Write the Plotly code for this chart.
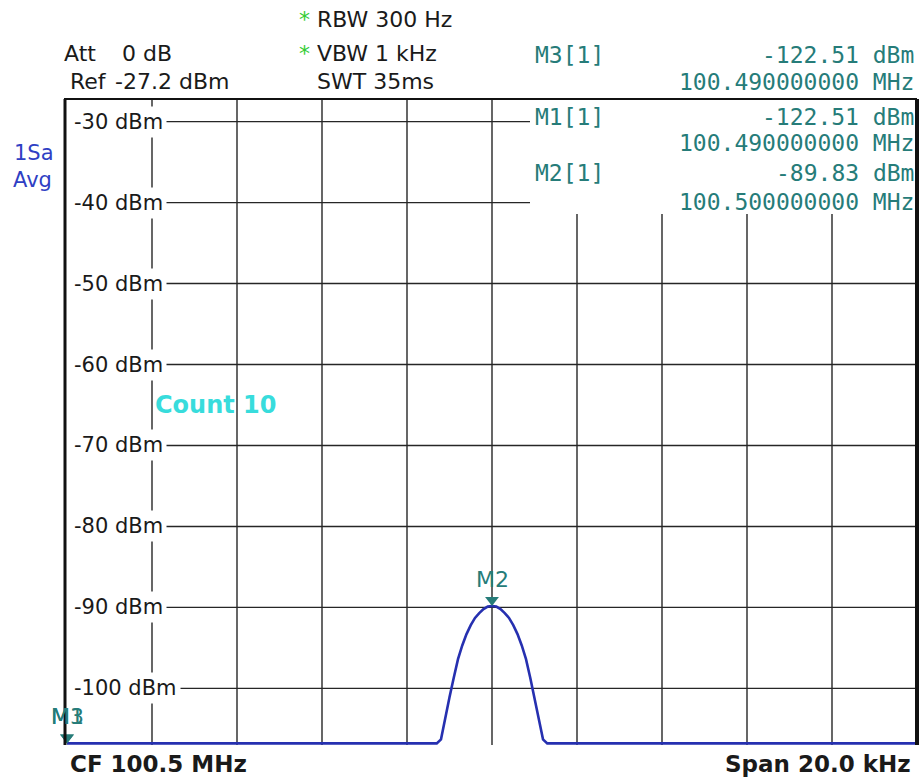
import numpy as np
import plotly.graph_objects as go

CENTER_MHZ = 100.5
SPAN_KHZ = 20.0
REF_LEVEL_DBM = -27.2
ATT_DB = 0
RBW_TEXT = "RBW 300 Hz"
VBW_TEXT = "VBW 1 kHz"
SWT_TEXT = "SWT 35ms"
GRID_LEVELS_DBM = [-30, -40, -50, -60, -70, -80, -90, -100]
GRID_LABELS = ["-30 dBm", "-40 dBm", "-50 dBm", "-60 dBm",
               "-70 dBm", "-80 dBm", "-90 dBm", "-100 dBm"]

# trace (offset from centre in kHz, level in dBm)
TRACE_OFFSET_KHZ = [-10.0, -1.8, -1.6, -1.4, -1.3, -1.2, -1.1, -1.0, -0.9, -0.8,
                    -0.7, -0.6, -0.5, -0.4, -0.3, -0.2, -0.1, 0.0,
                    0.1, 0.2, 0.3, 0.4, 0.5, 0.6, 0.7, 0.8, 0.9, 1.0,
                    1.1, 1.2, 1.3, 1.4, 1.6, 1.8, 10.0]
TRACE_LEVEL_DBM = [-122.51, -122.51, -118.8, -112.1, -109.1, -106.3, -103.6, -101.1, -98.7, -96.4,
                   -94.7, -93.3, -92.2, -91.3, -90.7, -90.2, -89.9, -89.83,
                   -89.9, -90.2, -90.7, -91.3, -92.2, -93.3, -94.7, -96.4, -98.7, -101.1,
                   -103.6, -106.3, -109.1, -112.1, -118.8, -122.51, -122.51]

MARKER_NAMES = ["M3", "M1", "M2"]
MARKER_FREQ_MHZ = [100.49, 100.49, 100.50]
MARKER_LEVEL_DBM = [-122.51, -122.51, -89.83]

# ---------------- layout geometry (pixels) ----------------
W, H = 919, 780
L, R, T, B = 67, 917, 99, 745
Y_BOTTOM = -107.0          # lowest level visible on this (cropped) screen
PX_PER_DB = (B - T) / (REF_LEVEL_DBM - Y_BOTTOM)
TABLE_LEFT_PX = 530
TABLE_BOTTOM_PX = 214
LABEL_LEFT_PX = 70

def px_x(px):
    return (px - L) / (R - L)

def px_y(py):
    return (B - py) / (B - T)

GRID_COLOR = "#262626"
TEAL = "#267c79"
BLUE_TXT = "#2f3fc4"
TRACE_COLOR = "#2630b0"
SANS = "DejaVu Sans"
MONO = "DejaVu Sans Mono"

f0 = CENTER_MHZ - SPAN_KHZ / 2000.0
f1 = CENTER_MHZ + SPAN_KHZ / 2000.0
freq = CENTER_MHZ + np.array(TRACE_OFFSET_KHZ) / 1000.0
floor_draw = Y_BOTTOM + 0.2
level_disp = np.maximum(np.array(TRACE_LEVEL_DBM), floor_draw)

fig = go.Figure()
fig.add_trace(go.Scatter(x=freq, y=level_disp, mode="lines",
                         line=dict(color=TRACE_COLOR, width=2.6),
                         hoverinfo="skip", showlegend=False))

# marker triangles (tip at the marker level)
tri_size = 12
tri_off_db = (tri_size / 2) / PX_PER_DB
mk_y = [max(v, floor_draw) + tri_off_db for v in MARKER_LEVEL_DBM]
fig.add_trace(go.Scatter(x=MARKER_FREQ_MHZ, y=mk_y, mode="markers",
                         marker=dict(symbol="triangle-down", size=tri_size, color=TEAL),
                         cliponaxis=False, hoverinfo="skip", showlegend=False))

shapes = []
table_bottom_db = REF_LEVEL_DBM - (TABLE_BOTTOM_PX - T) / PX_PER_DB
# horizontal grid
for lv in GRID_LEVELS_DBM:
    x1 = px_x(TABLE_LEFT_PX) if lv > table_bottom_db else 1
    shapes.append(dict(type="line", xref="paper", yref="y", x0=px_x(LABEL_LEFT_PX + 2), x1=x1,
                       y0=lv, y1=lv, line=dict(color=GRID_COLOR, width=1.4), layer="below"))
# vertical grid
div = SPAN_KHZ / 10 / 1000.0
for k in range(1, 10):
    f = f0 + k * div
    xpx = L + k * (R - L) / 10
    y1 = 1 if xpx < TABLE_LEFT_PX else px_y(TABLE_BOTTOM_PX)
    shapes.append(dict(type="line", xref="x", yref="paper", x0=f, x1=f, y0=0, y1=y1,
                       line=dict(color=GRID_COLOR, width=1.4), layer="below"))
# frame
shapes += [
    dict(type="line", xref="paper", yref="paper", x0=px_x(64), x1=1, y0=1, y1=1,
         line=dict(color="#111", width=2)),
    dict(type="line", xref="paper", yref="paper", x0=px_x(65), x1=px_x(65), y0=0, y1=1,
         line=dict(color="#111", width=3)),
    dict(type="line", xref="paper", yref="paper", x0=px_x(917), x1=px_x(917), y0=0, y1=1,
         line=dict(color="#111", width=4)),
]

ann = []
def txt(text, xpx, ypx, size, color="#1a1a1a", family=SANS, xanchor="left", weight=None, **kw):
    font = dict(family=family, size=size, color=color)
    if weight:
        font["weight"] = weight
    d = dict(text=text, xref="paper", yref="paper", x=px_x(xpx), y=px_y(ypx),
             xanchor=xanchor, yanchor="middle", showarrow=False, font=font)
    d.update(kw)
    ann.append(d)

star = "<span style='color:#33cc33'>*</span> "
txt(star + RBW_TEXT, 297, 20, 22)
txt("Att", 62, 53, 22)
txt(f"{ATT_DB} dB", 120, 53, 22)
txt(star + VBW_TEXT, 297, 53, 22)
txt("Ref", 68, 82, 22)
txt(f"{REF_LEVEL_DBM:.1f} dBm", 113, 82, 22)
txt(SWT_TEXT, 315, 82, 22)
txt("1Sa", 12, 153, 21, color=BLUE_TXT)
txt("Avg", 11, 180, 21, color=BLUE_TXT)

# marker table
rows_y = [(55, 82), (117, 143), (173, 202)]
for (name, fr, lv), (ya, yb) in zip(zip(MARKER_NAMES, MARKER_FREQ_MHZ, MARKER_LEVEL_DBM), rows_y):
    txt(f"{name}[1]", 533, ya, 23, color=TEAL, family=MONO)
    txt(f"{lv:.2f} dBm", 916, ya, 23, color=TEAL, family=MONO, xanchor="right")
    txt(f"{fr:.9f} MHz", 916, yb, 23, color=TEAL, family=MONO, xanchor="right")

# level labels
for lv, lab in zip(GRID_LEVELS_DBM, GRID_LABELS):
    ann.append(dict(text=lab, xref="paper", yref="y", x=px_x(LABEL_LEFT_PX), y=lv,
                    xanchor="left", yanchor="middle", showarrow=False,
                    bgcolor="white", borderpad=3,
                    font=dict(family=SANS, size=21, color="#1a1a1a")))

txt("Count 10", 153, 405, 24, color="#38dcdc", weight="bold")

# bottom texts
txt(f"CF {CENTER_MHZ} MHz", 68, 764, 23, weight="bold")
txt(f"Span {SPAN_KHZ:.1f} kHz", 913, 764, 23, weight="bold", xanchor="right")

# marker labels
for name, fr, lv in zip(MARKER_NAMES, MARKER_FREQ_MHZ, MARKER_LEVEL_DBM):
    ann.append(dict(text=name, xref="x", yref="y", x=fr, y=max(lv, floor_draw),
                    xanchor="center", yanchor="bottom", yshift=12, showarrow=False,
                    font=dict(family=SANS, size=22, color=TEAL)))

fig.update_layout(
    width=W, height=H,
    margin=dict(l=L, r=W - R, t=T, b=H - B),
    paper_bgcolor="white", plot_bgcolor="white",
    xaxis=dict(range=[f0, f1], visible=False, fixedrange=True),
    yaxis=dict(range=[Y_BOTTOM, REF_LEVEL_DBM], visible=False, fixedrange=True),
    shapes=shapes, annotations=ann, showlegend=False,
)
fig.write_html("out.html")
